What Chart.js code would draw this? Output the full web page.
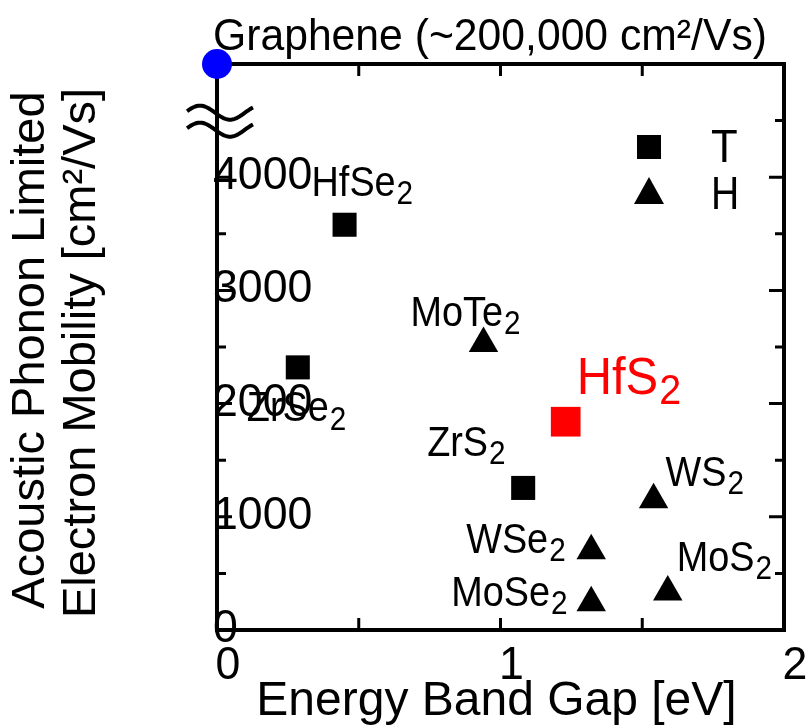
<!DOCTYPE html>
<html>
<head>
	<title>Mobility vs Band Gap</title>
	<script src="https://cdn.jsdelivr.net/npm/chart.js"></script>
	<style>
		body {
			margin: 0;
			background: #fff;
		}
		#wrap {
			width: 809px;
			height: 727px;
		}
	</style>
</head>
<body>
	<div id="wrap"><canvas id="myChart" width="809" height="727"></canvas></div>
	<script>
		// T phase (squares)
		var tNames = ['HfSe', 'ZrSe', 'ZrS'];
		var tGap = [0.45, 0.285, 1.08];
		var tMobility = [3580, 2320, 1255];

		// HfS2, highlighted in red
		var hfs2Name = ['HfS'];
		var hfs2Gap = [1.23];
		var hfs2Mobility = [1840];

		// H phase (triangles)
		var hNames = ['MoTe', 'WS', 'WSe', 'MoSe', 'MoS'];
		var hGap = [0.94, 1.54, 1.32, 1.32, 1.59];
		var hMobility = [2530, 1150, 700, 240, 335];

		// graphene sits on the broken top of the axis
		var grapheneGap = [0];
		var grapheneMobility = [5000];

		var xTicks = [0, 0.5, 1, 1.5, 2];
		var xTickLabels = [0, 1, 2];
		var yTicks = [0, 500, 1000, 1500, 2000, 2500, 3000, 3500, 4000, 4500];
		var yTickLabels = [0, 1000, 2000, 3000, 4000];

		// label placement, px from the marker centre to text start / baseline
		var tLabelPos = [[-33, -29], [-51, 54], [-96, -32]];
		var hfs2LabelPos = [[11, -28]];
		var hLabelPos = [[-73, -18], [12, -14], [-125, 2], [-140, 3], [9, -21]];

		var FONT = '"Liberation Sans", Arial, sans-serif';

		function pts(xs, ys) {
			var out = [];
			for (var i = 0; i < xs.length; i++) out.push({x: xs[i], y: ys[i]});
			return out;
		}

		// text drawn a little narrower than the font, like the original figure
		function txt(ctx, s, x, y, size, sx, align) {
			ctx.save();
			ctx.font = size + 'px ' + FONT;
			ctx.textAlign = align || 'left';
			ctx.translate(x, y);
			ctx.scale(sx, 1);
			ctx.fillText(s, 0, 0);
			var w = ctx.measureText(s).width * sx;
			ctx.restore();
			return w;
		}

		function subText(ctx, base, sub, x, y, size, sx, ratio, color) {
			ctx.fillStyle = color;
			ctx.textBaseline = 'alphabetic';
			var w = txt(ctx, base, x, y, size, sx);
			txt(ctx, sub, x + w + 1, y + size * 0.2, Math.round(size * ratio), sx);
		}

		var framePlugin = {
			id: 'frame',
			beforeDatasetsDraw: function(chart) {
				var ctx = chart.ctx, a = chart.chartArea;
				var xs = chart.scales.x, ys = chart.scales.y;
				ctx.save();
				ctx.strokeStyle = '#000';
				ctx.lineWidth = 4;
				ctx.strokeRect(a.left, a.top, a.right - a.left, a.bottom - a.top);
				ctx.lineWidth = 3;
				ctx.beginPath();
				xTicks.forEach(function(v) {
					if (v === 0 || v === 2) return;
					var px = xs.getPixelForValue(v);
					ctx.moveTo(px, a.bottom); ctx.lineTo(px, a.bottom - 12);
					ctx.moveTo(px, a.top); ctx.lineTo(px, a.top + 12);
				});
				yTicks.forEach(function(v) {
					if (v === 0) return;
					var py = ys.getPixelForValue(v);
					var len = (v % 1000 === 0) ? 15 : 9;
					if (v < 4500) {
						ctx.moveTo(a.left, py); ctx.lineTo(a.left + len, py);
					}
					ctx.moveTo(a.right, py); ctx.lineTo(a.right - len, py);
				});
				ctx.stroke();

				// axis break on the left axis
				var yc = ys.getPixelForValue(4570);
				ctx.lineWidth = 4;
				[0, 17].forEach(function(off) {
					ctx.beginPath();
					for (var k = 0; k <= 66; k++) {
						var px = a.left - 30 + k;
						var py = yc + off - 7 * Math.sin(2 * Math.PI * k / 60 + 0.21);
						if (k === 0) ctx.moveTo(px, py); else ctx.lineTo(px, py);
					}
					ctx.stroke();
				});
				ctx.restore();
			},
			afterDatasetsDraw: function(chart) {
				var ctx = chart.ctx, a = chart.chartArea;
				var xs = chart.scales.x, ys = chart.scales.y;
				ctx.save();
				ctx.fillStyle = '#000';

				// tick labels
				ctx.textBaseline = 'middle';
				xTickLabels.forEach(function(v) {
					txt(ctx, String(v), xs.getPixelForValue(v) + 11, a.bottom + 36, 47, 0.95, 'center');
				});
				yTickLabels.forEach(function(v) {
					txt(ctx, String(v), a.left - 4, ys.getPixelForValue(v) - 1, 47, 0.95, 'left');
				});

				// axis titles
				ctx.textBaseline = 'alphabetic';
				txt(ctx, 'Energy Band Gap [eV]', (a.left + a.right) / 2 - 4, 715, 48, 1, 'center');
				ctx.save();
				ctx.rotate(-Math.PI / 2);
				txt(ctx, 'Acoustic Phonon Limited', -350, 44, 47, 1, 'center');
				txt(ctx, 'Electron Mobility [cm\u00B2/Vs]', -353, 95, 47, 1, 'center');
				ctx.restore();

				// top note for graphene
				txt(ctx, 'Graphene (~200,000 cm\u00B2/Vs)', 213, 50, 44, 0.97, 'left');

				// point labels
				function labels(names, gx, gy, pos, size, sx, ratio, color) {
					for (var i = 0; i < names.length; i++) {
						var px = xs.getPixelForValue(gx[i]);
						var py = ys.getPixelForValue(gy[i]);
						subText(ctx, names[i], '2', px + pos[i][0], py + pos[i][1], size, sx, ratio, color);
					}
				}
				labels(tNames, tGap, tMobility, tLabelPos, 42, 0.9, 0.78, '#000');
				labels(hNames, hGap, hMobility, hLabelPos, 42, 0.9, 0.78, '#000');
				labels(hfs2Name, hfs2Gap, hfs2Mobility, hfs2LabelPos, 52, 0.94, 0.8, '#ff0000');

				// legend
				var lx = a.left + 432, ly = a.top + 83;
				ctx.fillStyle = '#000';
				ctx.fillRect(lx - 12, ly - 12, 24, 24);
				ctx.beginPath();
				ctx.moveTo(lx, ly + 30);
				ctx.lineTo(lx + 15, ly + 57);
				ctx.lineTo(lx - 15, ly + 57);
				ctx.closePath();
				ctx.fill();
				ctx.textBaseline = 'middle';
				txt(ctx, 'T', lx + 62, ly + 2, 46, 0.95, 'left');
				txt(ctx, 'H', lx + 62, ly + 49, 46, 0.85, 'left');
				ctx.restore();
			}
		};

		var ctx = document.getElementById('myChart').getContext('2d');
		var chart = new Chart(ctx, {
			type: 'scatter',
			data: {
				datasets: [{
					label: 'T',
					data: pts(tGap, tMobility),
					pointStyle: 'rect',
					pointRadius: 17,
					backgroundColor: '#000',
					borderWidth: 0,
					clip: false
				}, {
					label: 'HfS2',
					data: pts(hfs2Gap, hfs2Mobility),
					pointStyle: 'rect',
					pointRadius: 21,
					backgroundColor: '#ff0000',
					borderWidth: 0,
					clip: false
				}, {
					label: 'H',
					data: pts(hGap, hMobility),
					pointStyle: 'triangle',
					pointRadius: 17,
					backgroundColor: '#000',
					borderWidth: 0,
					clip: false
				}, {
					label: 'Graphene',
					data: pts(grapheneGap, grapheneMobility),
					pointStyle: 'circle',
					pointRadius: 15,
					backgroundColor: '#0000ff',
					borderWidth: 0,
					clip: false
				}]
			},
			options: {
				responsive: false,
				animation: false,
				layout: {
					padding: {left: 217, right: 25, top: 64, bottom: 97}
				},
				scales: {
					x: {type: 'linear', min: 0, max: 2, display: false},
					y: {type: 'linear', min: 0, max: 5000, display: false}
				},
				plugins: {
					legend: {display: false},
					tooltip: {enabled: false}
				}
			},
			plugins: [framePlugin]
		});
	</script>
</body>
</html>
